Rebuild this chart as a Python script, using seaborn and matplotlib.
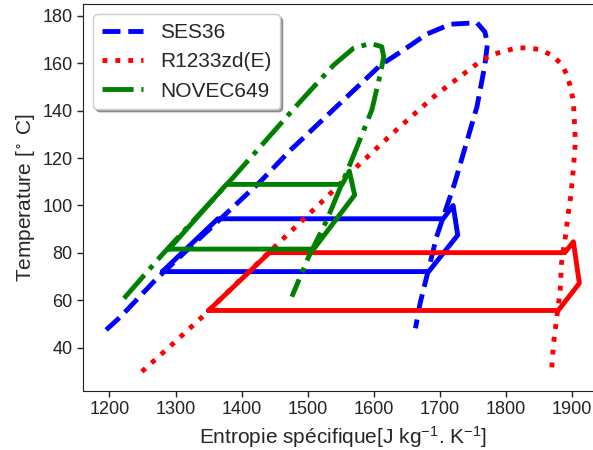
import numpy as np
import pandas as pd
import matplotlib
matplotlib.use("Agg")
import matplotlib.pyplot as plt
import seaborn as sns

# saturation domes (s in J/kg/K, T in degC)
ses_dome_s = [1195, 1217, 1272, 1428, 1474, 1610, 1645, 1680, 1716, 1756,
              1768, 1772, 1768, 1756, 1723, 1695, 1670, 1663]
ses_dome_T = [47.5, 53.1, 69.3, 110.0, 123.4, 159.2, 165.6, 172.3, 176.5, 177.1,
              173.3, 168.4, 159.2, 141.6, 110.0, 86.8, 58.7, 48.2]

r1233_dome_s = [1249, 1295, 1340, 1398, 1458, 1532, 1574, 1635, 1695, 1760, 1779,
                1816, 1830, 1850, 1869, 1884, 1893, 1898, 1902, 1903, 1905, 1902,
                1898, 1895, 1890, 1884, 1882, 1877, 1872, 1869]
r1233_dome_T = [29.9, 41.4, 52.9, 68.6, 84.7, 104.4, 116.3, 132.1, 146.9, 160.6, 163.7,
                166.5, 166.5, 165.9, 163.5, 159.7, 154.6, 149.4, 143.8, 138.1, 126.9, 115.7,
                104.0, 98.4, 87.1, 75.6, 64.3, 53.1, 41.9, 30.6]

novec_dome_s = [1222, 1277, 1388, 1484, 1539, 1569, 1595, 1612, 1615, 1610,
                1597, 1567, 1529, 1501, 1476]
novec_dome_T = [60.8, 78.4, 112.1, 142.4, 159.2, 166.3, 168.4, 167.0, 162.7, 155.7,
                140.3, 119.5, 93.9, 78.1, 61.5]

# ORC cycles (closed polygons)
ses_cycle_s = [1280, 1364, 1705, 1720, 1727, 1683, 1280]
ses_cycle_T = [72.1, 94.4, 94.4, 100.0, 87.5, 72.1, 72.1]

r1233_cycle_s = [1350, 1442, 1889, 1902, 1911, 1879, 1350]
r1233_cycle_T = [55.7, 80.1, 80.1, 84.7, 67.2, 55.7, 55.7]

novec_cycle_s = [1290, 1377, 1552, 1563, 1571, 1509, 1290]
novec_cycle_T = [81.6, 108.9, 108.9, 114.5, 104.4, 81.6, 81.6]

sns.set_style("ticks")
plt.rcParams["font.family"] = ["Liberation Sans", "DejaVu Sans"]
plt.rcParams["mathtext.fontset"] = "custom"
plt.rcParams["mathtext.rm"] = "Liberation Sans"
plt.rcParams["mathtext.it"] = "Liberation Sans"
plt.rcParams["mathtext.default"] = "regular"
plt.rcParams["axes.edgecolor"] = "#222222"
plt.rcParams["xtick.color"] = "#222222"
plt.rcParams["ytick.color"] = "#222222"

fig, ax = plt.subplots(figsize=(5.93, 4.5), dpi=100)
fig.subplots_adjust(left=0.14, right=1.016, bottom=0.131, top=0.991)

lw = 3.5
fluids = [
    ("SES36", ses_dome_s, ses_dome_T, ses_cycle_s, ses_cycle_T, "blue", "--"),
    ("R1233zd(E)", r1233_dome_s, r1233_dome_T, r1233_cycle_s, r1233_cycle_T, "red", ":"),
    ("NOVEC649", novec_dome_s, novec_dome_T, novec_cycle_s, novec_cycle_T, "green", "-."),
]
for name, ds, dT, cs, cT, col, ls in fluids:
    sns.lineplot(x=ds, y=dT, sort=False, estimator=None, color=col,
                 linestyle=ls, linewidth=lw, label=name, ax=ax)
    sns.lineplot(x=cs, y=cT, sort=False, estimator=None, color=col,
                 linestyle="-", linewidth=lw, ax=ax)

ax.set_xlim(1160, 1946)
ax.set_ylim(21.7, 185)
ax.set_xticks([1200, 1300, 1400, 1500, 1600, 1700, 1800, 1900])
ax.set_yticks([40, 60, 80, 100, 120, 140, 160, 180])
ax.tick_params(labelsize=13, length=4, width=1)
ax.set_xlabel("Entropie spécifique[J kg$^{-1}$. K$^{-1}$]", fontsize=15)
ax.set_ylabel("Temperature [$^\\circ$ C]", fontsize=15)
ax.legend(loc="upper left", fontsize=15, shadow=True, fancybox=True,
          framealpha=1, edgecolor="#cccccc")

plt.savefig("out.png", dpi=100)
